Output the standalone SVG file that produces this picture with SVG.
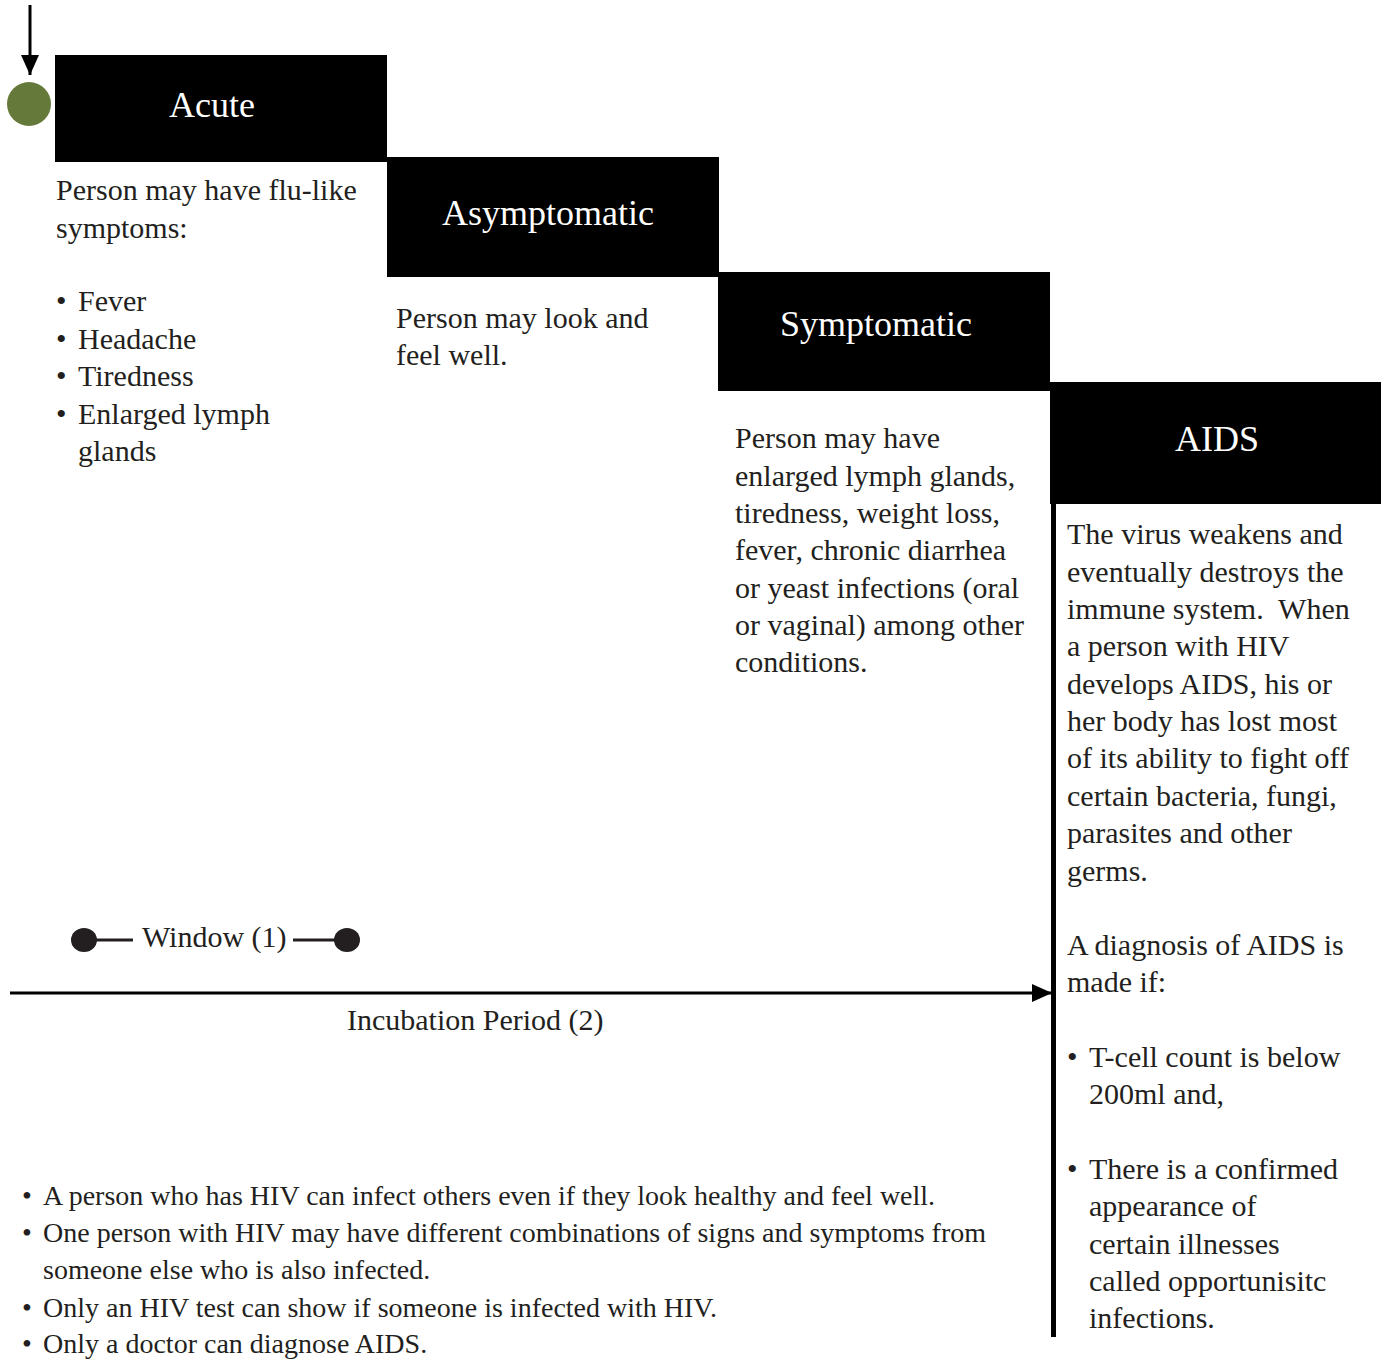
<svg xmlns="http://www.w3.org/2000/svg" width="1381" height="1359" viewBox="0 0 1381 1359">
<style>
text{font-family:"Liberation Serif","DejaVu Serif",serif;fill:#231f20}
.t{font-size:30px}
.h{font-size:36px;fill:#fff;text-anchor:middle}
.b{font-size:28px}
.box{fill:#000}
</style>
<defs>
<marker id="ah2" markerWidth="20" markerHeight="18" refX="20" refY="9" orient="auto" markerUnits="userSpaceOnUse" viewBox="0 0 20 18">
<path d="M0,0 L20,9 L0,18 z" fill="#000"/>
</marker>
</defs>
<rect width="1381" height="1359" fill="#fff"/>
<g id="start">
<circle cx="29" cy="104" r="22" fill="#657a3a"/>
</g>
<g id="acute">
<rect class="box" x="55" y="55" width="332" height="107"/>
<text class="h" x="212" y="117">Acute</text>
<text class="t" x="56" y="200">Person may have flu-like</text>
<text class="t" x="56" y="238">symptoms:</text>
<text class="t" x="56" y="311">•</text><text class="t" x="78" y="311">Fever</text>
<text class="t" x="56" y="349">•</text><text class="t" x="78" y="349">Headache</text>
<text class="t" x="56" y="386">•</text><text class="t" x="78" y="386">Tiredness</text>
<text class="t" x="56" y="424">•</text><text class="t" x="78" y="424">Enlarged lymph</text>
<text class="t" x="78" y="461">glands</text>
</g>
<g id="asymptomatic">
<rect class="box" x="387" y="157" width="332" height="120"/>
<text class="h" x="548" y="225">Asymptomatic</text>
<text class="t" x="396" y="328">Person may look and</text>
<text class="t" x="396" y="365">feel well.</text>
</g>
<g id="symptomatic">
<rect class="box" x="718" y="272" width="332" height="119"/>
<text class="h" x="876" y="336">Symptomatic</text>
<text class="t" x="735" y="448">Person may have</text>
<text class="t" x="735" y="486">enlarged lymph glands,</text>
<text class="t" x="735" y="523">tiredness, weight loss,</text>
<text class="t" x="735" y="560">fever, chronic diarrhea</text>
<text class="t" x="735" y="598">or yeast infections (oral</text>
<text class="t" x="735" y="635">or vaginal) among other</text>
<text class="t" x="735" y="672">conditions.</text>
</g>
<g id="aids">
<rect class="box" x="1050" y="382" width="331" height="122"/>
<text class="h" x="1217" y="451">AIDS</text>
<rect class="box" x="1051" y="504" width="5" height="833"/>
<text class="t" x="1067" y="544">The virus weakens and</text>
<text class="t" x="1067" y="582">eventually destroys the</text>
<text class="t" x="1067" y="619" xml:space="preserve">immune system.  When</text>
<text class="t" x="1067" y="656">a person with HIV</text>
<text class="t" x="1067" y="694">develops AIDS, his or</text>
<text class="t" x="1067" y="731">her body has lost most</text>
<text class="t" x="1067" y="768">of its ability to fight off</text>
<text class="t" x="1067" y="806">certain bacteria, fungi,</text>
<text class="t" x="1067" y="843">parasites and other</text>
<text class="t" x="1067" y="881">germs.</text>
<text class="t" x="1067" y="955">A diagnosis of AIDS is</text>
<text class="t" x="1067" y="992">made if:</text>
<text class="t" x="1067" y="1067">•</text><text class="t" x="1089" y="1067">T-cell count is below</text>
<text class="t" x="1089" y="1104">200ml and,</text>
<text class="t" x="1067" y="1179">•</text><text class="t" x="1089" y="1179">There is a confirmed</text>
<text class="t" x="1089" y="1216">appearance of</text>
<text class="t" x="1089" y="1254">certain illnesses</text>
<text class="t" x="1089" y="1291">called opportunisitc</text>
<text class="t" x="1089" y="1328">infections.</text>
</g>
<g id="window">
<text class="t" x="142" y="947">Window (1)</text>
</g>
<g id="incubation">
<text class="t" x="347" y="1030">Incubation Period (2)</text>
</g>
<g id="notes">
<text class="b" x="22" y="1205">•</text><text class="b" x="43" y="1205">A person who has HIV can infect others even if they look healthy and feel well.</text>
<text class="b" x="22" y="1242">•</text><text class="b" x="43" y="1242">One person with HIV may have different combinations of signs and symptoms from</text>
<text class="b" x="43" y="1279">someone else who is also infected.</text>
<text class="b" x="22" y="1317">•</text><text class="b" x="43" y="1317">Only an HIV test can show if someone is infected with HIV.</text>
<text class="b" x="22" y="1353">•</text><text class="b" x="43" y="1353">Only a doctor can diagnose AIDS.</text>
</g>
<g id="connectors">
<line x1="30" y1="5" x2="30" y2="75" stroke="#000" stroke-width="3" marker-end="url(#ah2)"/>
<line x1="84" y1="940" x2="133" y2="940" stroke="#231f20" stroke-width="3"/>
<line x1="293" y1="940" x2="347" y2="940" stroke="#231f20" stroke-width="3"/>
<ellipse cx="84" cy="940" rx="13" ry="12" fill="#231f20"/>
<ellipse cx="347" cy="940" rx="13" ry="12" fill="#231f20"/>
<line x1="10" y1="993" x2="1052" y2="993" stroke="#000" stroke-width="3" marker-end="url(#ah2)"/>
</g>
</svg>
